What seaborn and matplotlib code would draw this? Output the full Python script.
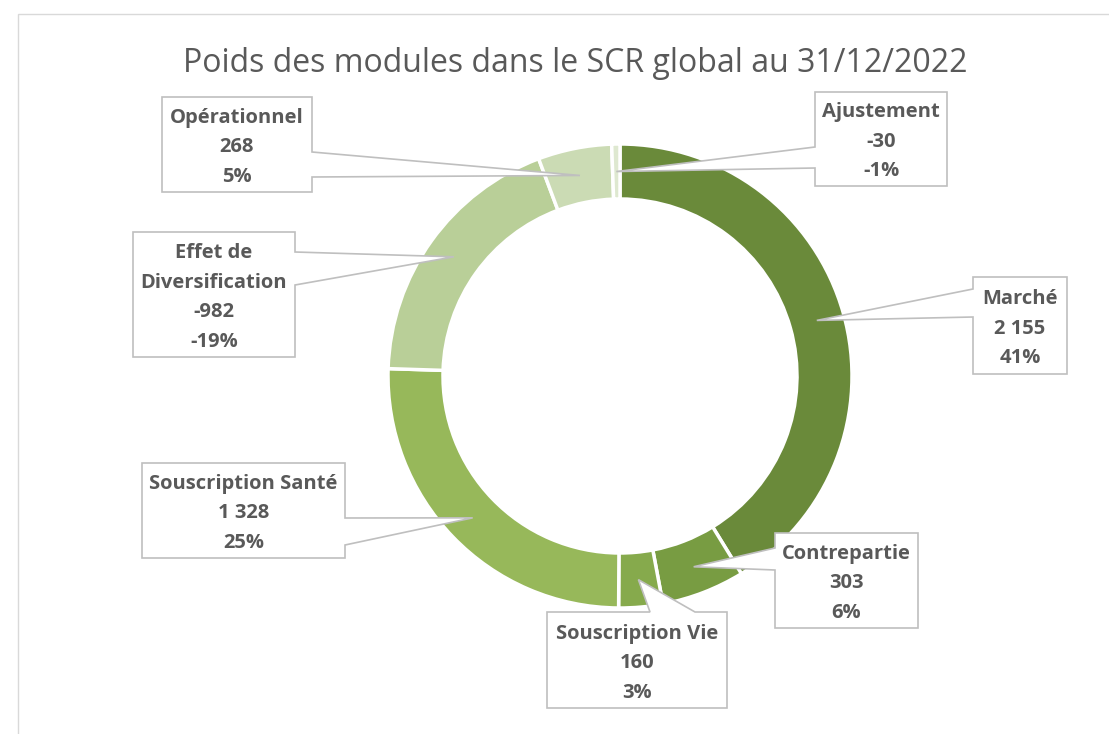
import numpy as np
import matplotlib
matplotlib.use("Agg")
import matplotlib.pyplot as plt
from matplotlib.patches import Polygon, Rectangle
import seaborn as sns

# ---- data ----
categories = ["Marché", "Contrepartie", "Souscription Vie", "Souscription Santé",
              "Effet de\nDiversification", "Opérationnel", "Ajustement"]
values = [2155, 303, 160, 1328, -982, 268, -30]
colors = ["#6A8A3A", "#789C42", "#86AA4C", "#97B85A", "#B9CF98", "#CBDBB4", "#DEE8D0"]
title = "Poids des modules dans le SCR global au 31/12/2022"

sns.set_theme(style="white")
plt.rcParams["font.family"] = ["Open Sans", "DejaVu Sans"]

W_PX, H_PX = 1109, 734
fig = plt.figure(figsize=(W_PX / 100, H_PX / 100), dpi=100)
ax = fig.add_axes([0, 0, 1, 1])

CX, CY = 620, H_PX - 376
R, RW = 232, 55
absvals = np.abs(values)
total = absvals.sum()

wedges, _ = ax.pie(absvals, startangle=90, counterclock=False, colors=colors,
                   radius=R, center=(CX, CY),
                   wedgeprops=dict(width=RW, edgecolor="white", linewidth=2.5))
ax.set_xlim(0, W_PX)
ax.set_ylim(0, H_PX)
ax.set_aspect("equal")
ax.axis("off")

# chart border (top and left visible)
ax.add_patch(Rectangle((18, -10), W_PX + 20, H_PX - 14 + 10, fill=False,
                       edgecolor="#D9D9D9", linewidth=1.0, zorder=0))

ax.text(575, H_PX - 72, title, ha="center", va="baseline", fontsize=23,
        color="#595959")

# callout layout: box (x0, y0, x1, y1) in pixels (y down), side, attach a1, a2
layout = [
    ((973, 277, 1067, 374), "left", 289, 317),
    ((775, 533, 918, 628), "left", 548, 570),
    ((547, 612, 727, 708), "top", 650, 695),
    ((142, 463, 345, 558), "right", 518, 545),
    ((133, 232, 295, 357), "right", 252, 285),
    ((162, 97, 312, 192), "right", 152, 177),
    ((815, 92, 947, 186), "left", 147, 168),
]

def fy(y):
    return H_PX - y

for i, (w, (box, side, a1, a2)) in enumerate(zip(wedges, layout)):
    mid = np.deg2rad((w.theta1 + w.theta2) / 2)
    rm = R - RW / 2
    tip = (CX + rm * np.cos(mid), CY + rm * np.sin(mid))
    x0, y0, x1, y1 = box
    if side == "right":
        pts = [(x0, fy(y0)), (x1, fy(y0)), (x1, fy(a1)), tip, (x1, fy(a2)),
               (x1, fy(y1)), (x0, fy(y1))]
    elif side == "left":
        pts = [(x0, fy(y0)), (x1, fy(y0)), (x1, fy(y1)), (x0, fy(y1)),
               (x0, fy(a2)), tip, (x0, fy(a1))]
    else:
        pts = [(x0, fy(y0)), (a1, fy(y0)), tip, (a2, fy(y0)), (x1, fy(y0)),
               (x1, fy(y1)), (x0, fy(y1))]
    ax.add_patch(Polygon(pts, closed=True, facecolor="white", edgecolor="#BFBFBF",
                         linewidth=1.2, zorder=5, joinstyle="miter"))
    v = values[i]
    pct = v / total * 100
    lines = categories[i].split("\n") + [f"{v:,}".replace(",", " "), f"{pct:.0f}%"]
    n = len(lines)
    cxb = (x0 + x1) / 2
    cyb = (y0 + y1) / 2 + 1
    for k, line in enumerate(lines):
        yc = cyb + (k - (n - 1) / 2) * 29.5
        ax.text(cxb, fy(yc + 7), line, ha="center", va="baseline", fontsize=14.5,
                fontweight="bold", color="#595959", zorder=6)

fig.savefig("out.png", dpi=100)
